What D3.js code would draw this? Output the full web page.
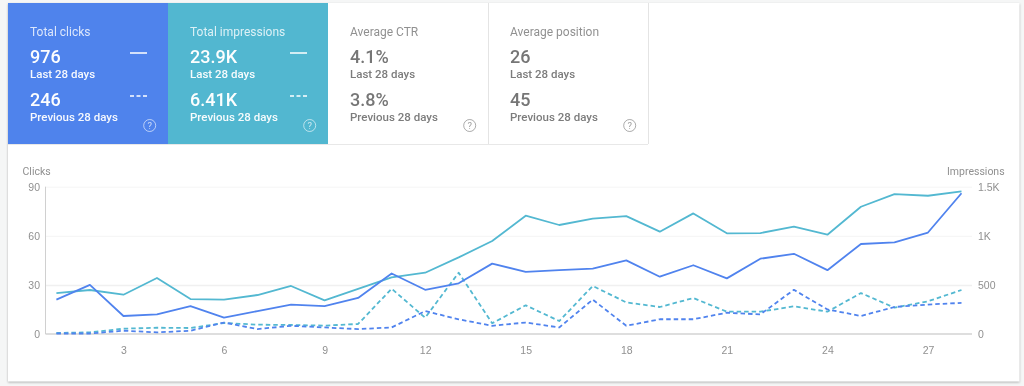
<!doctype html>
<html>
<head>
    <style>
        html, body { margin: 0; padding: 0; background: #f5f6f6; }
        svg { display: block; font-family: Roboto, sans-serif; }
        .tick text { font-size: 10.5px; fill: #8f8f8f; opacity: 0.99; }
        .axis-title { font-size: 10.5px; fill: #8f8f8f; opacity: 0.99; }
        .domain { stroke: none; }
        .tick line { stroke: none; }
        .grid .tick line { stroke: #e9e9e9; stroke-width: 1; stroke-dasharray: 1 1; }
        .grid .tick.solid line { stroke: #f0f0f0; stroke-dasharray: none; stroke-width: 1.5; }
        .curve { fill: none; stroke-width: 1.8; stroke-linejoin: round; }
        .curve.prev { stroke-dasharray: 4.5 3; }
    </style>
    <script src="https://d3js.org/d3.v7.min.js"></script>
</head>
<body>
<svg width="1024" height="386"></svg>
<script>
    const days = d3.range(1, 29)
    const dayTicks = [3, 6, 9, 12, 15, 18, 21, 24, 27]
    const clickTicks = [0, 30, 60, 90]
    const impressionTicks = [0, 500, 1000, 1500]

    const clicksNow = [21, 30, 11, 12, 17, 10, 14, 18, 17, 22, 37, 27, 31, 43, 38, 39, 40, 45, 35, 42, 34, 46, 49, 39, 55, 56, 62, 86]
    const clicksPrev = [0.3, 0.3, 2, 1, 2, 7, 3, 5, 4, 3, 4, 14, 9, 5, 7, 4, 21, 5, 9, 9, 13, 12, 27, 15, 11, 16.5, 18, 19]
    const impressionsNow = [417, 448, 400, 570, 356, 350, 397, 489, 343, 460, 577, 624, 780, 947, 1205, 1110, 1174, 1201, 1042, 1228, 1025, 1028, 1093, 1011, 1296, 1425, 1408, 1452]
    const impressionsPrev = [10, 17, 54, 64, 61, 112, 95, 92, 85, 102, 461, 166, 624, 109, 292, 132, 489, 322, 275, 366, 227, 227, 282, 227, 417, 268, 333, 448]

    const cardTitles = ['Total clicks', 'Total impressions', 'Average CTR', 'Average position']
    const cardNow = ['976', '23.9K', '4.1%', '26']
    const cardPrev = ['246', '6.41K', '3.8%', '45']
    const cardFills = ['#4f83ec', '#52b7d0', '#ffffff', '#ffffff']
    const cardInks = ['#ffffff', '#ffffff', '#757575', '#757575']

    const blue = '#5083ee'
    const teal = '#53b8d1'

    const svg = d3.select('svg')

    // white panel behind cards and chart
    svg.append('rect')
        .attr('x', 8).attr('y', 3).attr('width', 1011.5).attr('height', 378.5)
        .attr('fill', '#fff')
        .style('filter', 'drop-shadow(0 1px 1px rgba(0,0,0,0.28))')

    // metric cards
    const cardX = d3.scaleBand().domain(d3.range(4)).range([8, 648])
    const cards = svg.selectAll('.card')
        .data(cardTitles)
        .enter()
        .append('g')
        .attr('class', 'card')
        .attr('transform', (d, i) => `translate(${cardX(i)}, 3)`)

    cards.append('rect')
        .attr('width', cardX.bandwidth())
        .attr('height', 141)
        .attr('fill', (d, i) => cardFills[i])

    // card edges go on top of the card fills
    svg.append('line')
        .attr('x1', 8).attr('x2', 648).attr('y1', 144.5).attr('y2', 144.5)
        .attr('stroke', '#e8e8e8')
    svg.selectAll('.card-edge')
        .data([2, 3])
        .enter()
        .append('line')
        .attr('class', 'card-edge')
        .attr('x1', (d) => cardX(d) + cardX.bandwidth() + 0.5)
        .attr('x2', (d) => cardX(d) + cardX.bandwidth() + 0.5)
        .attr('y1', 3).attr('y2', 144)
        .attr('stroke', '#e4e4e4')

    const cardText = (y, size, weight, opacity, values) => cards.append('text')
        .attr('x', 22)
        .attr('y', y)
        .attr('font-size', size)
        .attr('font-weight', weight)
        .attr('fill', (d, i) => cardInks[i])
        .attr('opacity', opacity)
        .text((d, i) => values(d, i))

    cardText(33, 12, 400, 0.8, (d) => d)
    cardText(60, 18, 500, 0.99, (d, i) => cardNow[i])
    cardText(75, 11.5, 500, 0.95, () => 'Last 28 days')
    cardText(103, 18, 500, 0.99, (d, i) => cardPrev[i])
    cardText(118, 11.5, 500, 0.95, () => 'Previous 28 days')

    // legend strokes only on the two selected cards
    const selected = cards.filter((d, i) => i < 2)
    selected.append('line')
        .attr('x1', 122).attr('x2', 139).attr('y1', 50).attr('y2', 50)
        .attr('stroke', '#fff').attr('stroke-width', 1.5)
    selected.append('line')
        .attr('x1', 122).attr('x2', 139).attr('y1', 93).attr('y2', 93)
        .attr('stroke', '#fff').attr('stroke-width', 1.5)
        .attr('stroke-dasharray', '4 2.5')

    cards.append('circle')
        .attr('cx', 141.7)
        .attr('cy', 122.5)
        .attr('r', 6)
        .attr('fill', 'none')
        .attr('stroke', (d, i) => cardInks[i])
        .attr('opacity', 0.6)
    cards.append('text')
        .attr('x', 141.7)
        .attr('y', 126)
        .attr('text-anchor', 'middle')
        .attr('font-size', 9.5)
        .attr('fill', (d, i) => cardInks[i])
        .attr('opacity', 0.7)
        .text('?')

    // chart
    const x = d3.scaleLinear().domain([1, 28]).range([56.4, 961.5])
    const yClicks = d3.scaleLinear().domain([0, 90]).range([334, 186.7])
    const yImpressions = d3.scaleLinear().domain([0, 1500]).range([334, 186.7])

    const grid = svg.append('g')
        .attr('class', 'grid')
        .attr('transform', 'translate(45.5, 0)')
        .call(d3.axisLeft(yClicks).tickValues(clickTicks.slice(1)).tickSize(-926.5).tickFormat(''))
    grid.selectAll('.tick').classed('solid', (d) => d === 30)

    svg.append('line')
        .attr('x1', 45.5).attr('x2', 972).attr('y1', yClicks(0)).attr('y2', yClicks(0))
        .attr('stroke', '#bdbdbd')
    svg.append('line')
        .attr('x1', 45.5).attr('x2', 45.5).attr('y1', yClicks(90)).attr('y2', yClicks(0))
        .attr('stroke', '#d0d0d0')

    svg.append('g')
        .attr('transform', 'translate(40, 0)')
        .call(d3.axisLeft(yClicks).tickValues(clickTicks).tickSize(0).tickPadding(0))

    svg.append('g')
        .attr('transform', 'translate(978, 0)')
        .call(d3.axisRight(yImpressions).tickValues(impressionTicks).tickSize(0).tickPadding(0)
            .tickFormat((d) => d >= 1000 ? `${d / 1000}K` : d))

    svg.append('g')
        .attr('transform', 'translate(0, 347)')
        .call(d3.axisBottom(x).tickValues(dayTicks).tickSize(0).tickPadding(0))

    svg.append('text').attr('class', 'axis-title').attr('x', 22.5).attr('y', 175).text('Clicks')
    svg.append('text').attr('class', 'axis-title').attr('x', 947).attr('y', 175).text('Impressions')

    const drawCurve = (values, yScale, color, dashed) => svg.append('path')
        .datum(values)
        .attr('class', dashed ? 'curve prev' : 'curve')
        .attr('stroke', color)
        .attr('d', d3.line().x((d, i) => x(days[i])).y((d) => yScale(d)))

    drawCurve(impressionsPrev, yImpressions, teal, true)
    drawCurve(clicksPrev, yClicks, blue, true)
    drawCurve(impressionsNow, yImpressions, teal, false)
    drawCurve(clicksNow, yClicks, blue, false)
</script>
</body>
</html>
